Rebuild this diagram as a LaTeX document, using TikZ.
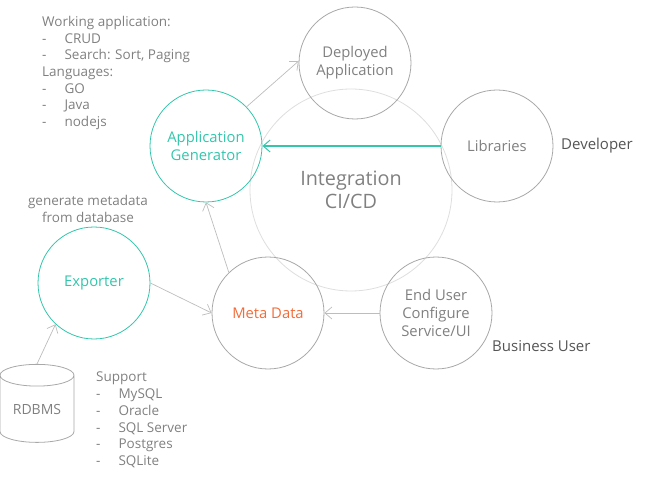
\documentclass[tikz,border=0pt]{standalone}
\usepackage{fontspec}
\setmainfont{Open Sans}
\usetikzlibrary{arrows.meta,shapes.geometric}
\definecolor{teal1}{HTML}{33C6AC}
\definecolor{circgray}{HTML}{A8A8A8}
\definecolor{biggray}{HTML}{DEDEDE}
\definecolor{txtgray}{HTML}{808080}
\definecolor{darkgray1}{HTML}{555555}
\definecolor{arrgray}{HTML}{BDBDBD}
\definecolor{orange1}{HTML}{F26B38}
\begin{document}
\begin{tikzpicture}[x=1pt,y=-1pt,
  bub/.style={circle,draw=circgray,line width=0.8pt,minimum size=112pt,inner sep=0pt,align=center,text=txtgray,font=\fontsize{14.8}{18}\selectfont},
  tealbub/.style={bub,draw=teal1,text=teal1},
  lbl/.style={text=txtgray,font=\fontsize{13.5}{16.7}\selectfont,inner sep=0pt},
  arr/.style={draw=arrgray,line width=0.7pt,-{Straight Barb[length=7pt,width=12pt]}},
  tarr/.style={draw=teal1,line width=1.3pt,-{Straight Barb[length=7pt,width=12pt,line width=1pt]}}]
\useasboundingbox (0,0) rectangle (651,481);
\node[circle,draw=biggray,line width=0.8pt,minimum size=202pt,inner sep=0pt,align=center,text=txtgray,font=\fontsize{19.8}{23}\selectfont] (ci) at (351,190) {Integration\\CI/CD};
\node[bub] (deployed) at (355,63) {Deployed\\Application};
\node[bub] (lib) at (497,146) {Libraries};
\node[tealbub] (appgen) at (206,146) {Application\\Generator};
\node[tealbub] (exporter) at (94,283) {Exporter};
\node[bub,text=orange1] (meta) at (268,313) {Meta Data};
\node[bub] (enduser) at (436,313) {End User\\Configure\\Service/UI};
\node[cylinder,shape border rotate=90,draw=circgray,line width=0.8pt,minimum width=74pt,minimum height=78pt,aspect=0.45,inner sep=0pt,text=txtgray,font=\fontsize{14}{16}\selectfont] (rdbms) at (37,409) {RDBMS};
\node[lbl,text=darkgray1,anchor=west,font=\fontsize{15}{17}\selectfont] (dev) at (561,146) {Developer};
\node[lbl,text=darkgray1,anchor=west,font=\fontsize{15}{17}\selectfont] (bus) at (492,346) {Business User};
\node[lbl,anchor=north west,align=left] (work) at (42,16) {Working application:\\-\hspace{18pt}CRUD\\-\hspace{18pt}Search: Sort, Paging\\Languages:\\-\hspace{18pt}GO\\-\hspace{18pt}Java\\-\hspace{18pt}nodejs};
\node[lbl,align=center] (gen) at (88,209) {generate metadata\\from database};
\node[lbl,anchor=north west,align=left] (sup) at (96,372) {Support\\-\hspace{18pt}MySQL\\-\hspace{18pt}Oracle\\-\hspace{18pt}SQL Server\\-\hspace{18pt}Postgres\\-\hspace{18pt}SQLite};
\draw[arr] (appgen.44) -- (deployed.178);
\draw[tarr] (lib.west) -- (appgen.east);
\draw[arr] (meta.134) -- (appgen.270);
\draw[arr] (exporter.0) -- (meta.180);
\draw[arr] (enduser.west) -- (meta.east);
\draw[arr] (rdbms.north) -- (exporter.227);
\end{tikzpicture}
\end{document}
